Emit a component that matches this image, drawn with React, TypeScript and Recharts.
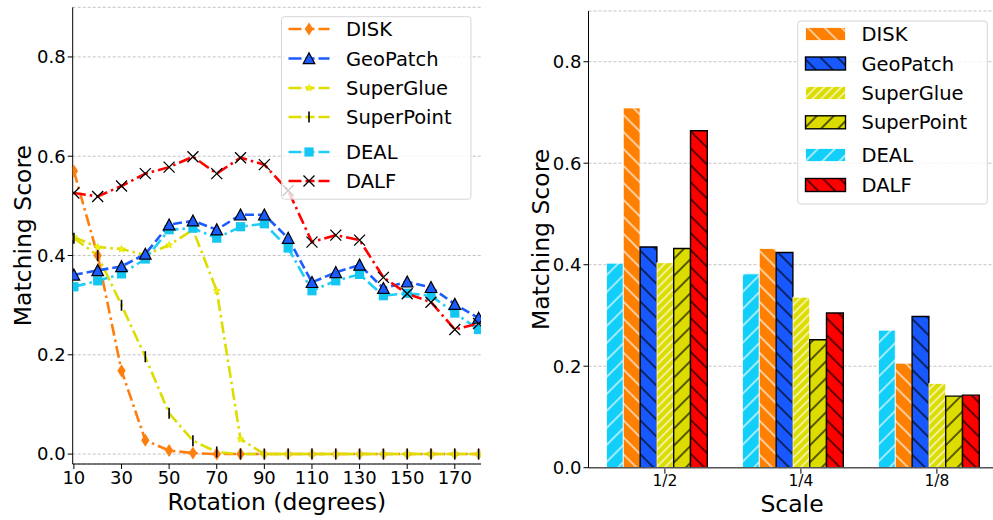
import React from 'react';
import { LineChart, Line, BarChart, Bar, XAxis, YAxis, CartesianGrid, Label } from 'recharts';

// rotation sweep (degrees) and matching score per method
const rotation = [10, 20, 30, 40, 50, 60, 70, 80, 90, 100, 110, 120, 130, 140, 150, 160, 170, 180];
const rotationTicks = [10, 30, 50, 70, 90, 110, 130, 150, 170];
const scoreTicks = [0, 0.2, 0.4, 0.6, 0.8];

const diskByRotation = [0.57, 0.4, 0.168, 0.028, 0.007, 0.002, 0, 0, 0, 0, 0, 0, 0, 0, 0, 0, 0, 0];
const geoPatchByRotation = [0.361, 0.37, 0.378, 0.403, 0.462, 0.47, 0.452, 0.482, 0.482, 0.435, 0.346, 0.366, 0.381, 0.334, 0.347, 0.336, 0.302, 0.274];
const superGlueByRotation = [0.437, 0.417, 0.413, 0.401, 0.421, 0.452, 0.329, 0.03, 0, 0, 0, 0, 0, 0, 0, 0, 0, 0];
const superPointByRotation = [0.435, 0.4, 0.3, 0.196, 0.082, 0.027, 0.004, 0, 0, 0, 0, 0, 0, 0, 0, 0, 0, 0];
const dealByRotation = [0.337, 0.349, 0.363, 0.393, 0.452, 0.455, 0.435, 0.458, 0.464, 0.415, 0.329, 0.349, 0.362, 0.319, 0.324, 0.319, 0.284, 0.251];
const dalfByRotation = [0.526, 0.519, 0.54, 0.565, 0.578, 0.599, 0.565, 0.597, 0.583, 0.531, 0.427, 0.441, 0.431, 0.356, 0.323, 0.306, 0.251, 0.263];

// scale experiment
const scales = ['1/2', '1/4', '1/8'];
const dealByScale = [0.403, 0.382, 0.271];
const diskByScale = [0.709, 0.432, 0.206];
const geoPatchByScale = [0.435, 0.424, 0.298];
const superGlueByScale = [0.404, 0.336, 0.166];
const superPointByScale = [0.432, 0.252, 0.141];
const dalfByScale = [0.664, 0.305, 0.143];

const rotationData = rotation.map((r, i) => ({
  rotation: r,
  DISK: diskByRotation[i],
  GeoPatch: geoPatchByRotation[i],
  SuperGlue: superGlueByRotation[i],
  SuperPoint: superPointByRotation[i],
  DEAL: dealByRotation[i],
  DALF: dalfByRotation[i],
}));

const scaleData = scales.map((s, i) => ({
  scale: s,
  DEAL: dealByScale[i],
  DISK: diskByScale[i],
  GeoPatch: geoPatchByScale[i],
  SuperGlue: superGlueByScale[i],
  SuperPoint: superPointByScale[i],
  DALF: dalfByScale[i],
}));

const FONT = '"DejaVu Sans", "Liberation Sans", sans-serif';
const DASHED = '9 4';
const DASH_DOT = '12 4 2.5 4';

type MarkerKind = 'diamond' | 'triangle' | 'star' | 'vline' | 'square' | 'cross';

const LINE_STYLE: Record<string, { color: string; dash: string; marker: MarkerKind }> = {
  DISK: { color: '#ff7f0e', dash: DASH_DOT, marker: 'diamond' },
  GeoPatch: { color: '#1a5cff', dash: DASHED, marker: 'triangle' },
  SuperGlue: { color: '#dddd00', dash: DASH_DOT, marker: 'star' },
  SuperPoint: { color: '#dddd00', dash: DASH_DOT, marker: 'vline' },
  DEAL: { color: '#1fcdf8', dash: DASH_DOT, marker: 'square' },
  DALF: { color: '#ff0000', dash: DASH_DOT, marker: 'cross' },
};

const legendOrder = ['DISK', 'GeoPatch', 'SuperGlue', 'SuperPoint', 'DEAL', 'DALF'];
// drawing order of the lines (last on top)
const lineOrder = ['DISK', 'SuperGlue', 'SuperPoint', 'DEAL', 'GeoPatch', 'DALF'];

function starPath(x: number, y: number, r: number) {
  const pts: string[] = [];
  for (let k = 0; k < 10; k++) {
    const rad = k % 2 === 0 ? r : r * 0.45;
    const a = -Math.PI / 2 + (k * Math.PI) / 5;
    pts.push(`${x + rad * Math.cos(a)},${y + rad * Math.sin(a)}`);
  }
  return `M${pts.join('L')}Z`;
}

function Marker({ kind, x, y, faded }: { kind: MarkerKind; x: number; y: number; faded?: boolean }) {
  if (x == null || y == null) return null;
  let shape: React.ReactNode = null;
  switch (kind) {
    case 'diamond':
      shape = <path d={`M${x} ${y - 6.5}L${x + 4.2} ${y}L${x} ${y + 6.5}L${x - 4.2} ${y}Z`} fill="#ff7f0e" />;
      break;
    case 'triangle':
      shape = <path d={`M${x} ${y - 5.8}L${x + 5.8} ${y + 5.2}L${x - 5.8} ${y + 5.2}Z`} fill="#1a5cff" stroke="#000" strokeWidth={1.2} />;
      break;
    case 'star':
      shape = <path d={starPath(x, y, 3.8)} fill="#f2f200" stroke="#dddd00" strokeWidth={0.6} />;
      break;
    case 'vline':
      shape = <line x1={x} x2={x} y1={y - 5.5} y2={y + 5.5} stroke="#000" strokeWidth={1.6} />;
      break;
    case 'square':
      shape = <rect x={x - 4.6} y={y - 4.6} width={9.2} height={9.2} fill="#14c6f2" />;
      break;
    case 'cross':
      shape = <path d={`M${x - 5.5} ${y - 5.5}L${x + 5.5} ${y + 5.5}M${x - 5.5} ${y + 5.5}L${x + 5.5} ${y - 5.5}`} stroke="#000" strokeWidth={1.3} fill="none" />;
      break;
  }
  return <g opacity={faded ? 0.35 : 1}>{shape}</g>;
}

// bar styles: fill, hatch direction, hatch spacing, hatch colour, edge
const BAR_STYLE: Record<string, { color: string; dir: '/' | '\\'; gap: number; hatch: string; edge: string }> = {
  DEAL: { color: '#12cffa', dir: '/', gap: 12, hatch: '#ffffff', edge: '#ffffff' },
  DISK: { color: '#ff8000', dir: '\\', gap: 12, hatch: '#ffffff', edge: '#ffffff' },
  GeoPatch: { color: '#1759ff', dir: '\\', gap: 12, hatch: '#000000', edge: '#000000' },
  SuperGlue: { color: '#dcdc00', dir: '/', gap: 6, hatch: '#ffffff', edge: '#ffffff' },
  SuperPoint: { color: '#dcdc00', dir: '/', gap: 12, hatch: '#000000', edge: '#000000' },
  DALF: { color: '#ff0000', dir: '\\', gap: 12, hatch: '#000000', edge: '#000000' },
};
const barOrder = ['DEAL', 'DISK', 'GeoPatch', 'SuperGlue', 'SuperPoint', 'DALF'];
const BAR_W = 16.8;

const lineLegendRows = [29, 58.5, 88, 117, 152, 181];
const barLegendRows = [34, 63.5, 93, 122.3, 155, 185];

function LineLegend() {
  return (
    <svg width={490} height={520} style={{ position: 'absolute', left: 0, top: 0, pointerEvents: 'none' }}>
      <rect x={281.5} y={16.7} width={189.5} height={182.5} rx={3} fill="#fff" fillOpacity={0.8} stroke="#cccccc" strokeOpacity={0.8} />
      {legendOrder.map((name, i) => {
        const s = LINE_STYLE[name];
        const y = lineLegendRows[i];
        return (
          <g key={name}>
            <line x1={288.5} x2={329.5} y1={y} y2={y} stroke={s.color} strokeWidth={2.6} strokeDasharray="13 4 9 4" />
            <Marker kind={s.marker} x={309} y={y} />
            <text x={346} y={y + 7} fontSize={19.5} fill="#000" fontFamily={FONT}>{name}</text>
          </g>
        );
      })}
    </svg>
  );
}

function BarLegend() {
  return (
    <svg width={520} height={520} style={{ position: 'absolute', left: 0, top: 0, pointerEvents: 'none' }}>
      <rect x={297.8} y={21} width={189.5} height={183} rx={3} fill="#fff" fillOpacity={0.8} stroke="#cccccc" strokeOpacity={0.8} />
      {legendOrder.map((name, i) => {
        const s = BAR_STYLE[name];
        const y = barLegendRows[i];
        return (
          <g key={name}>
            <rect x={305.5} y={y - 6.5} width={40} height={13} fill={`url(#hatch-${name})`} stroke={s.edge} strokeWidth={s.edge === '#000000' ? 1.4 : 0.8} />
            <text x={361.5} y={y + 7} fontSize={19.5} fill="#000" fontFamily={FONT}>{name}</text>
          </g>
        );
      })}
    </svg>
  );
}

function ScaleTick(props: any) {
  const { x, y, payload } = props;
  const cx = x + BAR_W / 2;
  return (
    <g>
      <line x1={cx} x2={cx} y1={y - 7} y2={y - 2} stroke="#000" />
      <text x={cx} y={y - 1} dy="0.71em" textAnchor="middle" fontSize={15.5} fill="#000" fontFamily={FONT}>{payload.value}</text>
    </g>
  );
}

const tickFmt = (v: number) => v.toFixed(1);

function verticalTitle(x: number, y: number, text: string) {
  return () => (
    <text x={x} y={y} transform={`rotate(-90 ${x} ${y})`} textAnchor="middle" fontSize={23.5} fill="#000" fontFamily={FONT}>{text}</text>
  );
}

function horizontalTitle(x: number, y: number, text: string) {
  return () => (
    <text x={x} y={y} textAnchor="middle" fontSize={23.5} fill="#000" fontFamily={FONT}>{text}</text>
  );
}

export default function App() {
  return (
    <div style={{ position: 'absolute', left: 0, top: 0, width: 993, height: 520, overflow: 'hidden', background: '#fff', fontFamily: FONT }}>
      <div style={{ position: 'absolute', left: 0, top: 0, width: 490, height: 520 }}>
        <LineChart width={490} height={520} data={rotationData} margin={{ top: 7.3, right: 9, left: 12.7, bottom: 26 }}>
          <CartesianGrid vertical={false} stroke="#b4b4b4" strokeDasharray="3 2" strokeWidth={0.8} />
          <XAxis
            dataKey="rotation"
            type="number"
            domain={[9.5, 181]}
            ticks={rotationTicks}
            interval={0}
            allowDataOverflow
            height={30}
            tickSize={5}
            tickMargin={2}
            stroke="#000"
            tick={{ fill: '#000', fontSize: 18 }}
          >
            <Label content={horizontalTitle(276.9, 510, 'Rotation (degrees)')} />
          </XAxis>
          <XAxis xAxisId="top" orientation="top" dataKey="rotation" type="number" domain={[9.5, 181]} allowDataOverflow height={0} tick={false} tickLine={false} stroke="#000" />
          <YAxis
            domain={[-0.02, 0.9]}
            ticks={scoreTicks}
            allowDataOverflow
            tickFormatter={tickFmt}
            width={60}
            tickSize={5}
            tickMargin={2}
            stroke="#000"
            tick={{ fill: '#000', fontSize: 18 }}
          >
            <Label content={verticalTitle(31.5, 235.6, 'Matching Score')} />
          </YAxis>
          <YAxis yAxisId="right" orientation="right" domain={[-0.02, 0.9]} allowDataOverflow width={0} tick={false} tickLine={false} stroke="#000" />
          {lineOrder.map((name) => {
            const s = LINE_STYLE[name];
            return (
              <Line
                key={name}
                type="linear"
                dataKey={name}
                stroke={s.color}
                strokeWidth={2.6}
                strokeDasharray={s.dash}
                dot={(p: any) => (
                  <Marker key={`${name}-${p.index}`} kind={s.marker} x={p.cx} y={p.cy} faded={name === 'DISK' && p.index >= 8} />
                )}
                activeDot={false}
                isAnimationActive={false}
              />
            );
          })}
        </LineChart>
        <LineLegend />
      </div>

      <div style={{ position: 'absolute', left: 500, top: 0, width: 520, height: 520 }}>
        <BarChart width={520} height={520} data={scaleData} margin={{ top: 11, right: 23.5, left: 28.5, bottom: 22.3 }} barGap={0} barSize={BAR_W}>
          <defs>
            {barOrder.map((name) => {
              const s = BAR_STYLE[name];
              return (
                <pattern
                  key={name}
                  id={`hatch-${name}`}
                  patternUnits="userSpaceOnUse"
                  width={s.gap}
                  height={s.gap}
                  patternTransform={`rotate(${s.dir === '/' ? 45 : -45})`}
                >
                  <rect width={s.gap} height={s.gap} fill={s.color} />
                  <line x1={s.gap / 2} x2={s.gap / 2} y1={0} y2={s.gap} stroke={s.hatch} strokeWidth={1.2} />
                </pattern>
              );
            })}
          </defs>
          <CartesianGrid vertical={false} stroke="#b4b4b4" strokeDasharray="3 2" strokeWidth={0.8} />
          <XAxis dataKey="scale" height={30} tickLine={false} tickSize={5} tickMargin={3} tick={<ScaleTick />} stroke="#555" strokeWidth={1.5}>
            <Label content={horizontalTitle(292, 512, 'Scale')} />
          </XAxis>
          <XAxis xAxisId="top" orientation="top" dataKey="scale" height={0} tick={false} tickLine={false} stroke="#000" />
          <YAxis
            domain={[0, 0.9]}
            ticks={scoreTicks}
            allowDataOverflow
            tickFormatter={tickFmt}
            width={60}
            tickSize={5}
            tickMargin={2}
            stroke="#000"
            tick={{ fill: '#000', fontSize: 18 }}
          >
            <Label content={verticalTitle(49.5, 239.4, 'Matching Score')} />
          </YAxis>
          {barOrder.map((name) => {
            const s = BAR_STYLE[name];
            const dark = s.edge === '#000000';
            return (
              <Bar
                key={name}
                dataKey={name}
                fill={`url(#hatch-${name})`}
                stroke={s.edge}
                strokeWidth={dark ? 1.4 : 0.8}
                isAnimationActive={false}
              />
            );
          })}
        </BarChart>
        <BarLegend />
      </div>
    </div>
  );
}
